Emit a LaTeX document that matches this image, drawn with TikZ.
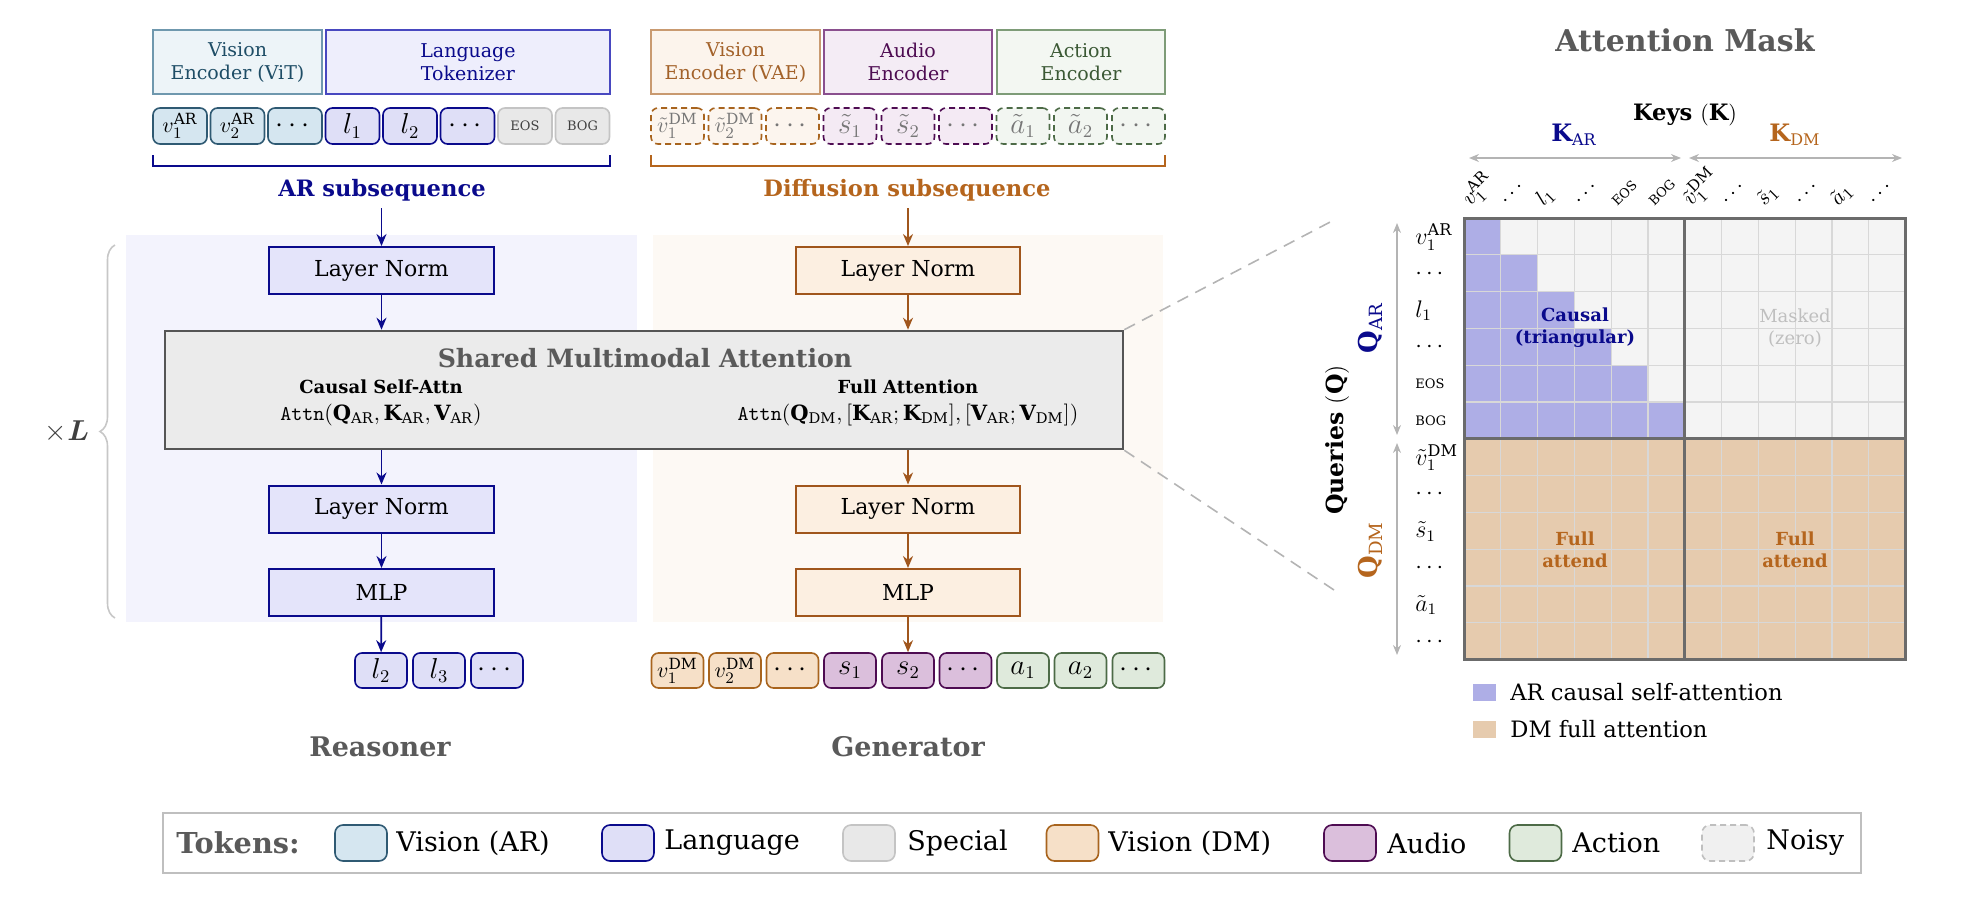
\documentclass[tikz,border=0pt]{standalone}
\usepackage{amsmath}
\usepackage{fontspec}
\setmainfont{DejaVu Serif}
\usetikzlibrary{arrows.meta,decorations.pathreplacing,calc}
\newcommand{\fsz}[2]{\fontsize{#1}{#2}\selectfont}
\definecolor{navyc}{HTML}{0A0A8C}
\definecolor{orc}{HTML}{B5651D}
\definecolor{orarrow}{HTML}{A0561C}
\definecolor{bgAR}{HTML}{F3F3FD}
\definecolor{bgDM}{HTML}{FDF9F4}
\definecolor{lnARfill}{HTML}{E4E4FA}
\definecolor{lnDMfill}{HTML}{FCEFE1}
\definecolor{attnfill}{HTML}{EBEBEB}
\definecolor{attndraw}{HTML}{555555}
\definecolor{titlegray}{HTML}{5A5A5A}
\definecolor{matAR}{HTML}{AEAEE6}
\definecolor{matMask}{HTML}{F4F4F4}
\definecolor{matDM}{HTML}{E6CBAE}
\definecolor{gridc}{HTML}{D8D8D8}
\definecolor{matbord}{HTML}{6B6B6B}
\definecolor{garrow}{HTML}{B4B4B4}
% encoder boxes
\definecolor{vitF}{HTML}{EDF4F8}\definecolor{vitD}{HTML}{6F98AE}\definecolor{vitT}{HTML}{1E4D66}
\definecolor{lngF}{HTML}{EEEEFC}\definecolor{lngD}{HTML}{4848C0}
\definecolor{vaeF}{HTML}{FCF4EC}\definecolor{vaeD}{HTML}{C99A70}\definecolor{vaeT}{HTML}{A3622A}
\definecolor{audF}{HTML}{F4ECF5}\definecolor{audD}{HTML}{8A4F8E}\definecolor{audT}{HTML}{4E0C52}
\definecolor{actF}{HTML}{F3F7F2}\definecolor{actD}{HTML}{7E9C78}\definecolor{actT}{HTML}{3B5935}
% tokens
\definecolor{tvisF}{HTML}{D5E6F0}\definecolor{tvisD}{HTML}{2F5A73}
\definecolor{tlngF}{HTML}{DFDFF7}
\definecolor{tspcF}{HTML}{E8E8E8}\definecolor{tspcD}{HTML}{C4C4C4}
\definecolor{tvdmF}{HTML}{F6E0C8}\definecolor{tvdmD}{HTML}{A8641E}
\definecolor{taudF}{HTML}{DBBFDC}\definecolor{taudD}{HTML}{4E0C52}
\definecolor{tactF}{HTML}{DFEADC}\definecolor{tactD}{HTML}{4D6B47}
\definecolor{nvdmF}{HTML}{FCF5EE}\definecolor{naudF}{HTML}{F4EAF4}\definecolor{nactF}{HTML}{F2F6F1}
\definecolor{noisyT}{HTML}{777777}
\begin{document}
\begin{tikzpicture}[x=0.5pt,y=-0.5pt,
  arr/.style={-{Stealth[length=6pt,width=5pt]}, line width=0.9pt},
  garr/.style={{Stealth[length=5pt,width=4pt]}-{Stealth[length=5pt,width=4pt]}, line width=0.6pt, draw=garrow},
  enc/.style={rectangle, minimum height=32pt, inner sep=0pt, line width=0.75pt, align=center, font=\fsz{9.5}{11.5}},
  tok/.style={rectangle, rounded corners=3.5pt, minimum height=18pt, minimum width=27pt, inner sep=0pt, line width=0.8pt, font=\fsz{13.5}{15}},
  sup/.style={font=\fsz{11}{13}},
  otok/.style={tok, minimum height=17.5pt, minimum width=26pt},
  dtok/.style={tok, minimum width=26.5pt},
  noisy/.style={dash pattern=on 3pt off 2pt, text=noisyT},
  tvis/.style={fill=tvisF, draw=tvisD},
  tlng/.style={fill=tlngF, draw=navyc},
  tspc/.style={fill=tspcF, draw=tspcD, text=black!75},
  tvdm/.style={fill=tvdmF, draw=tvdmD},
  taud/.style={fill=taudF, draw=taudD},
  tact/.style={fill=tactF, draw=tactD},
  lnAR/.style={rectangle, fill=lnARfill, draw=navyc, line width=1pt, minimum width=112.5pt, minimum height=23.5pt, font=\fsz{11}{13}},
  lnDM/.style={rectangle, fill=lnDMfill, draw=orarrow, line width=1pt, minimum width=112pt, minimum height=23.5pt, font=\fsz{11}{13}},
  swatch/.style={rectangle, rounded corners=4pt, minimum width=26pt, minimum height=18pt, inner sep=0pt, line width=0.8pt},
  legtxt/.style={anchor=west, inner sep=0pt, font=\fsz{13.5}{16}},
  dashline/.style={draw=garrow, line width=0.8pt, dash pattern=on 6pt off 4pt},
]
\useasboundingbox (0,0) rectangle (1988,900);

% backgrounds
\fill[bgAR] (126,235) rectangle (637,622);
\fill[bgDM] (653,235) rectangle (1163,622);

% encoders
\node[enc, fill=vitF, draw=vitD, text=vitT, minimum width=84.5pt] (encvit) at (237.5,62) {Vision\\Encoder (ViT)};
\node[enc, fill=lngF, draw=lngD, text=navyc, minimum width=142pt] (enclng) at (468,62) {Language\\Tokenizer};
\node[enc, fill=vaeF, draw=vaeD, text=vaeT, minimum width=84.5pt] (encvae) at (735.5,62) {Vision\\Encoder (VAE)};
\node[enc, fill=audF, draw=audD, text=audT, minimum width=84pt] (encaud) at (908,62) {Audio\\Encoder};
\node[enc, fill=actF, draw=actD, text=actT, minimum width=84pt] (encact) at (1081,62) {Action\\Encoder};

% AR input tokens
\node[tok, tvis, sup] (ta1) at (180,126) {$v_1^{\mathrm{AR}}$};
\node[tok, tvis, sup] (ta2) at (237.5,126) {$v_2^{\mathrm{AR}}$};
\node[tok, tvis] (ta3) at (295,126) {$\cdots$};
\node[tok, tlng] (ta4) at (352.5,126) {$l_1$};
\node[tok, tlng] (ta5) at (410,126) {$l_2$};
\node[tok, tlng] (ta6) at (467.5,126) {$\cdots$};
\node[tok, tspc] (ta7) at (525,126) {\fsz{6.5}{8}EOS};
\node[tok, tspc] (ta8) at (582.5,126) {\fsz{6.5}{8}BOG};

% DM input tokens (noisy)
\node[dtok, noisy, fill=nvdmF, draw=tvdmD, sup] (td1) at (677.5,126) {$\tilde v_1^{\mathrm{DM}}$};
\node[dtok, noisy, fill=nvdmF, draw=tvdmD, sup] (td2) at (735,126) {$\tilde v_2^{\mathrm{DM}}$};
\node[dtok, noisy, fill=nvdmF, draw=tvdmD] (td3) at (792.5,126) {$\cdots$};
\node[dtok, noisy, fill=naudF, draw=taudD] (td4) at (850,126) {$\tilde s_1$};
\node[dtok, noisy, fill=naudF, draw=taudD] (td5) at (908,126) {$\tilde s_2$};
\node[dtok, noisy, fill=naudF, draw=taudD] (td6) at (965.5,126) {$\cdots$};
\node[dtok, noisy, fill=nactF, draw=tactD] (td7) at (1023,126) {$\tilde a_1$};
\node[dtok, noisy, fill=nactF, draw=tactD] (td8) at (1080.5,126) {$\tilde a_2$};
\node[dtok, noisy, fill=nactF, draw=tactD] (td9) at (1138.5,126) {$\cdots$};

% brackets
\draw[navyc, line width=1pt] (153,155) -- (153,166) -- (610,166) -- (610,155);
\draw[orc, line width=1pt] (651,155) -- (651,166) -- (1165,166) -- (1165,155);
\node[font=\bfseries\fsz{11.3}{13}, text=navyc] (arlab) at (382,190) {AR subsequence};
\node[font=\bfseries\fsz{11.3}{13}, text=orc] (dmlab) at (907,190) {Diffusion subsequence};

% Reasoner column
\node[lnAR] (ln1a) at (381.5,270.5) {Layer Norm};
\node[lnAR] (ln2a) at (381.5,509) {Layer Norm};
\node[lnAR] (mlpa) at (381.5,592.5) {MLP};
% Generator column
\node[lnDM] (ln1d) at (908,270.5) {Layer Norm};
\node[lnDM] (ln2d) at (908,509) {Layer Norm};
\node[lnDM] (mlpd) at (908,592.5) {MLP};

% attention box
\node[rectangle, fill=attnfill, draw=attndraw, line width=1.3pt, minimum width=479pt, minimum height=59pt, inner sep=0pt] (attn) at (644,390) {};
\node[font=\bfseries\fsz{12.6}{15}, text=titlegray] (attnt) at (645,358) {Shared Multimodal Attention};
\node[font=\bfseries\fsz{9}{11}] (csa) at (381,387) {Causal Self-Attn};
\node[font=\fsz{10.5}{12}] (csaf) at (381,415) {$\mathtt{Attn}(\mathbf{Q}_{\mathrm{AR}}, \mathbf{K}_{\mathrm{AR}}, \mathbf{V}_{\mathrm{AR}})$};
\node[font=\bfseries\fsz{9}{11}] (fa) at (908,387) {Full Attention};
\node[font=\fsz{10.5}{12}] (faf) at (908,415) {$\mathtt{Attn}(\mathbf{Q}_{\mathrm{DM}}, [\mathbf{K}_{\mathrm{AR}}; \mathbf{K}_{\mathrm{DM}}], [\mathbf{V}_{\mathrm{AR}}; \mathbf{V}_{\mathrm{DM}}])$};

% output tokens
\node[otok, tlng] (oa1) at (381,670.5) {$l_2$};
\node[otok, tlng] (oa2) at (439,670.5) {$l_3$};
\node[otok, tlng] (oa3) at (497,670.5) {$\cdots$};
\node[otok, tvdm, sup] (od1) at (677.5,670.5) {$v_1^{\mathrm{DM}}$};
\node[otok, tvdm, sup] (od2) at (735,670.5) {$v_2^{\mathrm{DM}}$};
\node[otok, tvdm] (od3) at (792.5,670.5) {$\cdots$};
\node[otok, taud] (od4) at (850,670.5) {$s_1$};
\node[otok, taud] (od5) at (908,670.5) {$s_2$};
\node[otok, taud] (od6) at (965.5,670.5) {$\cdots$};
\node[otok, tact] (od7) at (1023,670.5) {$a_1$};
\node[otok, tact] (od8) at (1080.5,670.5) {$a_2$};
\node[otok, tact] (od9) at (1138.5,670.5) {$\cdots$};

% arrows
\draw[arr, navyc] (arlab.south -| ln1a) -- (ln1a);
\draw[arr, navyc] (ln1a) -- (ln1a |- attn.north);
\draw[arr, navyc] (ln1a |- attn.south) -- (ln2a);
\draw[arr, navyc] (ln2a) -- (mlpa);
\draw[arr, navyc] (mlpa) -- (oa1);
\draw[arr, orarrow] (dmlab.south -| ln1d) -- (ln1d);
\draw[arr, orarrow] (ln1d) -- (ln1d |- attn.north);
\draw[arr, orarrow] (ln1d |- attn.south) -- (ln2d);
\draw[arr, orarrow] (ln2d) -- (mlpd);
\draw[arr, orarrow] (mlpd) -- (od5);

% column names
\node[font=\bfseries\fsz{13.5}{16}, text=titlegray] (reas) at (380,747) {Reasoner};
\node[font=\bfseries\fsz{13.5}{16}, text=titlegray] (gen) at (908,747) {Generator};

% xL brace
\coordinate (brb) at (115,618);
\coordinate (brt) at (115,245);
\draw[decorate, decoration={brace, amplitude=7.5pt}, draw=black!22, line width=0.8pt] (brb) -- (brt);
\node[font=\fsz{14}{16}, text=black!75] (xl) at (67,432) {$\times\boldsymbol{L}$};

% dashed zoom lines
\coordinate (mz1) at (1334,220);
\coordinate (mz2) at (1334,590);
\draw[dashline] (attn.north east) -- (mz1);
\draw[dashline] (attn.south east) -- (mz2);

% ===== attention mask =====
\node[font=\bfseries\fsz{15}{17}, text=titlegray] (amt) at (1685,40) {Attention Mask};
\node[font=\bfseries\fsz{11.3}{13}] (keys) at (1685,115) {Keys $(\mathbf{K})$};
\node[font=\fsz{12}{14}, text=navyc] (kar) at (1574,135) {$\mathbf{K}_{\mathrm{AR}}$};
\node[font=\fsz{12}{14}, text=orc] (kdm) at (1795,135) {$\mathbf{K}_{\mathrm{DM}}$};
\coordinate (ka1) at (1469,158); \coordinate (ka2) at (1681,158);
\coordinate (kd1) at (1689,158); \coordinate (kd2) at (1902,158);
\draw[garr] (ka1) -- (ka2);
\draw[garr] (kd1) -- (kd2);
\coordinate (qa1) at (1397,223); \coordinate (qa2) at (1397,435);
\coordinate (qd1) at (1397,443); \coordinate (qd2) at (1397,655);
\draw[garr] (qa1) -- (qa2);
\draw[garr] (qd1) -- (qd2);
\node[rotate=90, font=\fsz{13}{15}, text=navyc] (qar) at (1370,328) {$\mathbf{Q}_{\mathrm{AR}}$};
\node[rotate=90, font=\fsz{13}{15}, text=orc] (qdm) at (1370,550) {$\mathbf{Q}_{\mathrm{DM}}$};
\node[rotate=90, font=\bfseries\fsz{11.8}{13}] (queries) at (1337,440) {Queries $(\mathbf{Q})$};

% matrix cells
\fill[matMask] (1464,218) rectangle (1905.6,438.8);
\fill[matDM] (1464,438.8) rectangle (1905.6,659.6);
\foreach \r in {0,...,5} {
  \fill[matAR] (1464,218+\r*36.8) rectangle (1464+\r*36.8+36.8,218+\r*36.8+36.8);
}
\foreach \i in {1,...,11} {
  \draw[gridc, line width=0.6pt] (1464+\i*36.8,218) -- (1464+\i*36.8,659.6);
  \draw[gridc, line width=0.6pt] (1464,218+\i*36.8) -- (1905.6,218+\i*36.8);
}
\draw[matbord, line width=1.5pt] (1464,218) rectangle (1905.6,659.6);
\draw[matbord, line width=1.5pt] (1684.8,218) -- (1684.8,659.6);
\draw[matbord, line width=1.5pt] (1464,438.8) -- (1905.6,438.8);

\node[font=\bfseries\fsz{9}{11}, text=navyc, align=center] (mc) at (1575,328) {Causal\\(triangular)};
\node[font=\fsz{9}{11}, text=black!25, align=center] (mm) at (1795,328) {Masked\\(zero)};
\node[font=\bfseries\fsz{9}{11}, text=orc, align=center] (mf1) at (1575,550) {Full\\attend};
\node[font=\bfseries\fsz{9}{11}, text=orc, align=center] (mf2) at (1795,550) {Full\\attend};

% row labels
\foreach \r/\lab in {0/{$v_1^{\mathrm{AR}}$},1/{$\cdots$},2/{$l_1$},3/{$\cdots$},4/{\fsz{6.5}{8}EOS},5/{\fsz{6.5}{8}BOG},6/{$\tilde v_1^{\mathrm{DM}}$},7/{$\cdots$},8/{$\tilde s_1$},9/{$\cdots$},10/{$\tilde a_1$},11/{$\cdots$}} {
  \node[anchor=west, inner sep=0pt, font=\fsz{11.5}{13}] (rl\r) at (1415,237+\r*36.8) {\lab};
}
% column labels
\foreach \k/\lab in {0/{$v_1^{\mathrm{AR}}$},1/{$\cdots$},2/{$l_1$},3/{$\cdots$},4/{\fsz{6.5}{8}EOS},5/{\fsz{6.5}{8}BOG},6/{$\tilde v_1^{\mathrm{DM}}$},7/{$\cdots$},8/{$\tilde s_1$},9/{$\cdots$},10/{$\tilde a_1$},11/{$\cdots$}} {
  \node[anchor=base west, rotate=45, inner sep=0pt, font=\fsz{11}{13}] (cl\k) at (1470+\k*36.8,207) {\lab};
}

% mask legend
\node[rectangle, fill=matAR, minimum width=11.5pt, minimum height=8.5pt, inner sep=0pt] (mlg1) at (1484.5,692.5) {};
\node[anchor=west, inner sep=0pt, font=\fsz{11.3}{13}] (mlg1t) at (1510,692.5) {AR causal self-attention};
\node[rectangle, fill=matDM, minimum width=11.5pt, minimum height=8.5pt, inner sep=0pt] (mlg2) at (1484.5,729.5) {};
\node[anchor=west, inner sep=0pt, font=\fsz{11.3}{13}] (mlg2t) at (1510,729.5) {DM full attention};

% token legend
\node[rectangle, draw=black!25, line width=0.8pt, minimum width=849pt, minimum height=30pt, inner sep=0pt] (legbox) at (1012,843) {};
\node[anchor=west, inner sep=0pt, font=\bfseries\fsz{14.4}{17}, text=titlegray] (legt) at (176,843) {Tokens:};
\node[swatch, tvis] (sw1) at (361,843) {};
\node[legtxt] (sw1t) at (396,843) {Vision (AR)};
\node[swatch, tlng] (sw2) at (628,843) {};
\node[legtxt] (sw2t) at (664,843) {Language};
\node[swatch, tspc] (sw3) at (869,843) {};
\node[legtxt] (sw3t) at (907,843) {Special};
\node[swatch, tvdm] (sw4) at (1072.5,843) {};
\node[legtxt] (sw4t) at (1108,843) {Vision (DM)};
\node[swatch, taud] (sw5) at (1350,843) {};
\node[legtxt] (sw5t) at (1387,843) {Audio};
\node[swatch, tact] (sw6) at (1535.5,843) {};
\node[legtxt] (sw6t) at (1572,843) {Action};
\node[swatch, fill=black!6, draw=black!25, dash pattern=on 3pt off 2pt] (sw7) at (1728,843) {};
\node[legtxt] (sw7t) at (1766,843) {Noisy};
\end{tikzpicture}
\end{document}
